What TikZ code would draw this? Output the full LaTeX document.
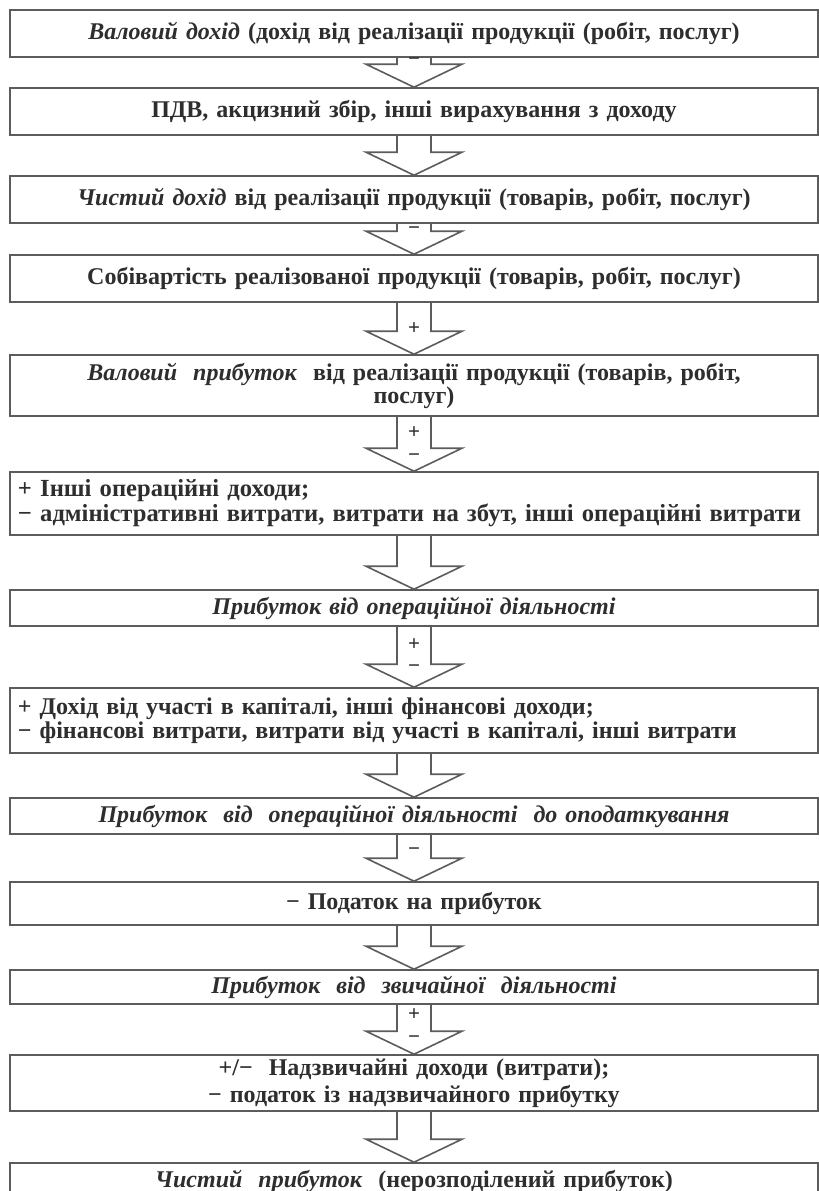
\documentclass[tikz,border=0pt]{standalone}
\usepackage{fontspec}
\setmainfont{Liberation Serif}
\usepackage{tikz}
\usetikzlibrary{calc}
\definecolor{ink}{HTML}{2E2E2E}
\definecolor{frame}{HTML}{5C5C5C}
\tikzset{
  box/.style={draw=frame, line width=0.8pt, inner xsep=4pt, inner ysep=0pt, text width=396pt, text=ink, font=\fontsize{12}{12}\selectfont\bfseries},
  boxc/.style={box, align=center},
  boxl/.style={box, align=left},
  barrow/.style={draw=frame, line width=0.8pt, line join=miter},
  sgn/.style={text=ink, inner sep=0pt, font=\fontsize{10.5}{10.5}\selectfont\bfseries},
}

\begin{document}
\begin{tikzpicture}[x=0.5pt, y=-0.5pt]
  \clip (0,0) rectangle (819,1191);
  \fill[white] (0,0) rectangle (819,1191);
  % boxes, top to bottom
  \node[boxc, minimum height=47*0.5pt] (b1) at (414,33.5) {\textit{Валовий дохід} (дохід від реалізації продукції (робіт, послуг)};
  \node[boxc, minimum height=47*0.5pt] (b2) at (414,111.5) {ПДВ, акцизний збір, інші вирахування з доходу};
  \node[boxc, minimum height=47*0.5pt] (b3) at (414,199.5) {\textit{Чистий дохід} від реалізації продукції (товарів, робіт, послуг)};
  \node[boxc, minimum height=47*0.5pt] (b4) at (414,278.5) {Собівартість реалізованої продукції (товарів, робіт, послуг)};
  \node[boxc, minimum height=61*0.5pt, font=\fontsize{12}{11.5}\selectfont\bfseries] (b5) at (414,385.5) {\textit{Валовий\ \ прибуток}\ \ від реалізації продукції (товарів, робіт,\\ послуг)};
  \node[boxl, minimum height=63*0.5pt, font=\fontsize{12.3}{10.5}\selectfont\bfseries] (b6) at (414,503.5) {+ Інші операційні доходи;\\ − адміністративні витрати, витрати на збут, інші операційні витрати};
  \node[boxc, minimum height=36*0.5pt] (b7) at (414,608) {\textit{Прибуток від операційної діяльності}};
  \node[boxl, minimum height=65*0.5pt, font=\fontsize{12}{10.5}\selectfont\bfseries] (b8) at (414,720.5) {+ Дохід від участі в капіталі, інші фінансові доходи;\\ − фінансові витрати, витрати від участі в капіталі, інші витрати};
  \node[boxc, minimum height=36*0.5pt] (b9) at (414,816) {\textit{Прибуток\ \ від\ \ операційної діяльності\ \ до оподаткування}};
  \node[boxc, minimum height=43*0.5pt] (b10) at (414,903.5) {− Податок на прибуток};
  \node[boxc, minimum height=34*0.5pt] (b11) at (414,987) {\textit{Прибуток\ \ від\ \ звичайної\ \ діяльності}};
  \node[boxc, minimum height=56*0.5pt, font=\fontsize{12}{13.5}\selectfont\bfseries] (b12) at (414,1083) {+/−\ \ Надзвичайні доходи (витрати);\\ − податок із надзвичайного прибутку};
  \node[boxc, minimum height=37*0.5pt] (b13) at (414,1181.5) {\textit{Чистий\ \ прибуток}\ \ (нерозподілений прибуток)};
  % block arrows between the boxes
  \foreach \a/\b in {b1/b2,b2/b3,b3/b4,b4/b5,b5/b6,b6/b7,b7/b8,b8/b9,b9/b10,b10/b11,b11/b12,b12/b13}
    \draw[barrow] ($(\a.south)+(-17,0)$) |- ($(\b.north)+(-48,-23)$) -- (\b.north)
      -- ($(\b.north)+(48,-23)$) -| ($(\a.south)+(17,0)$);
  % signs on the arrows
  \foreach \b/\s/\dy in {b2/−/26,b4/−/24,b5/+/26,b6/+/39,b6/−/14,b8/+/43,b8/−/19,b10/−/30,b12/+/40,b12/−/15}
    \node[sgn] (s-\b-\dy) at ($(\b.north)+(0,-\dy)$) {\s};
\end{tikzpicture}
\end{document}
